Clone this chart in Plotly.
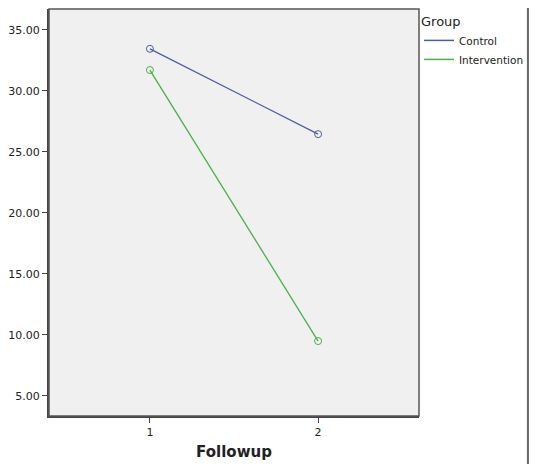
import plotly.graph_objects as go

followup = [1, 2]
control = [33.44, 26.45]
intervention = [31.7, 9.5]
yticks = [5, 10, 15, 20, 25, 30, 35]
blue, green = "#4a5fa0", "#4caf4c"

fig = go.Figure()
for name, vals, c in [("Control", control, blue), ("Intervention", intervention, green)]:
    fig.add_trace(go.Scatter(x=followup, y=vals, name=name, mode="lines+markers", showlegend=False,
                             line=dict(color=c, width=1.3),
                             marker=dict(symbol="circle-open", size=7, color=c)))
    fig.add_trace(go.Scatter(x=[None], y=[None], name=name, mode="lines",
                             line=dict(color=c, width=1.5)))

W, H, l, r, t, b = 522, 456, 41, 104, 1, 48
pw, ph = W - l - r, H - t - b
fig.add_shape(type="rect", xref="paper", yref="paper",
              x0=(-l - 7) / pw, x1=(W - l + 7) / pw, y0=(-b - 7) / ph, y1=(H - t - b + 7) / ph,
              line=dict(color="#666", width=2), layer="below")

fig.update_layout(
    width=W, height=H, margin=dict(l=l, r=r, t=t, b=b),
    paper_bgcolor="white", plot_bgcolor="#f0f0f0",
    font=dict(family="DejaVu Sans", color="#222", size=11),
    legend=dict(x=1.0, y=1.0, xanchor="left", yanchor="top", itemwidth=30,
                title=dict(text="Group", font=dict(size=13)),
                font=dict(size=10.5), bgcolor="rgba(0,0,0,0)", tracegroupgap=0),
    xaxis=dict(range=[0.4, 2.6], tickvals=followup, ticks="outside", ticklen=5,
               showgrid=False, zeroline=False, showline=True, linecolor="#444", linewidth=2,
               title=dict(text="<b>Followup</b>", font=dict(size=15), standoff=8)),
    yaxis=dict(range=[3.36, 36.7], tickvals=yticks, ticktext=[f"{v:.2f}" for v in yticks],
               ticks="outside", ticklen=5, showgrid=False, zeroline=False,
               showline=True, linecolor="#444", linewidth=2),
)
fig.add_shape(type="rect", xref="paper", yref="paper", x0=0, x1=1, y0=0, y1=1,
              line=dict(color="#555", width=1.5))
fig.write_html("out.html")
